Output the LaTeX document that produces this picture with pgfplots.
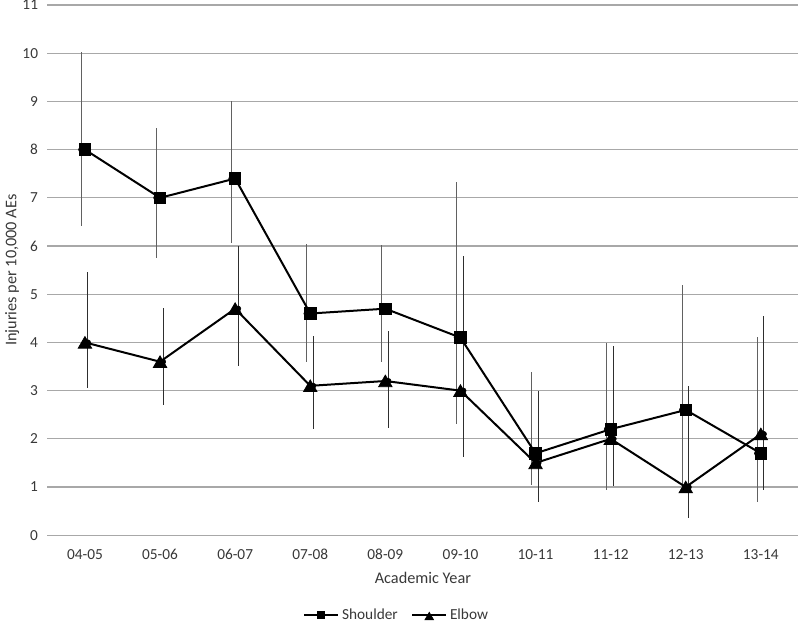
\documentclass[border=0pt]{standalone}
\usepackage{fontspec}
\setmainfont{Carlito}
\usepackage{pgfplots}
\pgfplotsset{compat=1.18}
\definecolor{txt}{HTML}{383838}
\definecolor{grd}{HTML}{A8A8A8}
\begin{document}
\begin{tikzpicture}
\useasboundingbox (-35.55pt,-67.3pt) rectangle (564.45pt,401.45pt);
\begin{axis}[
  at={(0,0)}, anchor=south west,
  scale only axis, width=563.25pt, height=397.7pt,
  xmin=-0.5, xmax=9.5, ymin=0, ymax=11,
  xtick={0,...,9},
  xticklabels={04-05,05-06,06-07,07-08,08-09,09-10,10-11,11-12,12-13,13-14},
  ytick={0,...,11},
  ymajorgrids,
  major grid style={draw=grd, line width=0.9pt},
  axis line style={draw=none},
  major tick length=0pt,
  tick label style={font=\fontsize{11.5}{13}\selectfont, text=txt},
  /pgf/number format/assume math mode=true,
  yticklabel style={xshift=-3.5pt},
  xticklabel style={yshift=-7pt},
  xlabel={Academic Year},
  ylabel={Injuries per 10,000 AEs},
  every axis x label/.style={at={(axis description cs:0.5,-0.08)}, anchor=center, font=\fontsize{12.2}{14}\selectfont, text=txt},
  every axis y label/.style={at={(axis description cs:-0.047,0.5)}, rotate=90, anchor=center, font=\fontsize{12.2}{14}\selectfont, text=txt},
  legend style={at={(axis description cs:0.4655,-0.151)}, anchor=center, draw=none, fill=none,
    font=\fontsize{11.5}{13}\selectfont, text=txt, legend columns=2, inner sep=1pt,
    /tikz/every even column/.append style={column sep=8pt}},
  legend image code/.code={\draw[mark repeat=2,mark phase=2, every mark/.append style={scale=0.62}] plot coordinates {(0cm,0cm)(0.45cm,0cm)(0.9cm,0cm)};},
]
% error bars, shoulder
\addplot[forget plot, only marks, mark=none, error bars/.cd, y dir=both, y explicit, error mark=none,
  error bar style={draw=black!62, line width=0.7pt}] coordinates {
  (-0.05,8.0) += (0,2.03) -= (0,1.58)
  (0.95,7.0) += (0,1.44) -= (0,1.25)
  (1.95,7.4) += (0,1.61) -= (0,1.33)
  (2.95,4.6) += (0,1.44) -= (0,1.00)
  (3.95,4.7) += (0,1.32) -= (0,1.11)
  (4.95,4.1) += (0,3.23) -= (0,1.79)
  (5.95,1.7) += (0,1.69) -= (0,0.66)
  (6.95,2.2) += (0,1.78) -= (0,1.26)
  (7.95,2.6) += (0,2.60) -= (0,1.60)
  (8.95,1.7) += (0,2.41) -= (0,1.00)
};
% error bars, elbow
\addplot[forget plot, only marks, mark=none, error bars/.cd, y dir=both, y explicit, error mark=none,
  error bar style={draw=black!82, line width=0.7pt}] coordinates {
  (0.04,4.0) += (0,1.46) -= (0,0.94)
  (1.04,3.6) += (0,1.11) -= (0,0.90)
  (2.04,4.7) += (0,1.30) -= (0,1.18)
  (3.04,3.1) += (0,1.04) -= (0,0.90)
  (4.04,3.2) += (0,1.04) -= (0,0.97)
  (5.04,3.0) += (0,2.79) -= (0,1.37)
  (6.04,1.5) += (0,1.49) -= (0,0.82)
  (7.04,2.0) += (0,1.93) -= (0,0.98)
  (8.04,1.0) += (0,2.10) -= (0,0.65)
  (9.04,2.1) += (0,2.45) -= (0,1.16)
};
\addplot[black, line width=1.5pt, mark=square*, mark size=4.3pt, mark options={solid, fill=black, line width=0.6pt}] coordinates {
  (0,8.0) (1,7.0) (2,7.4) (3,4.6) (4,4.7) (5,4.1) (6,1.7) (7,2.2) (8,2.6) (9,1.7)
};
\addlegendentry{Shoulder}
\addplot[black, line width=1.5pt, mark=triangle*, mark size=5.8pt, mark options={solid, fill=black, line width=0.6pt, yshift=-1.4pt}] coordinates {
  (0,4.0) (1,3.6) (2,4.7) (3,3.1) (4,3.2) (5,3.0) (6,1.5) (7,2.0) (8,1.0) (9,2.1)
};
\addlegendentry{Elbow}
\end{axis}
\end{tikzpicture}
\end{document}
